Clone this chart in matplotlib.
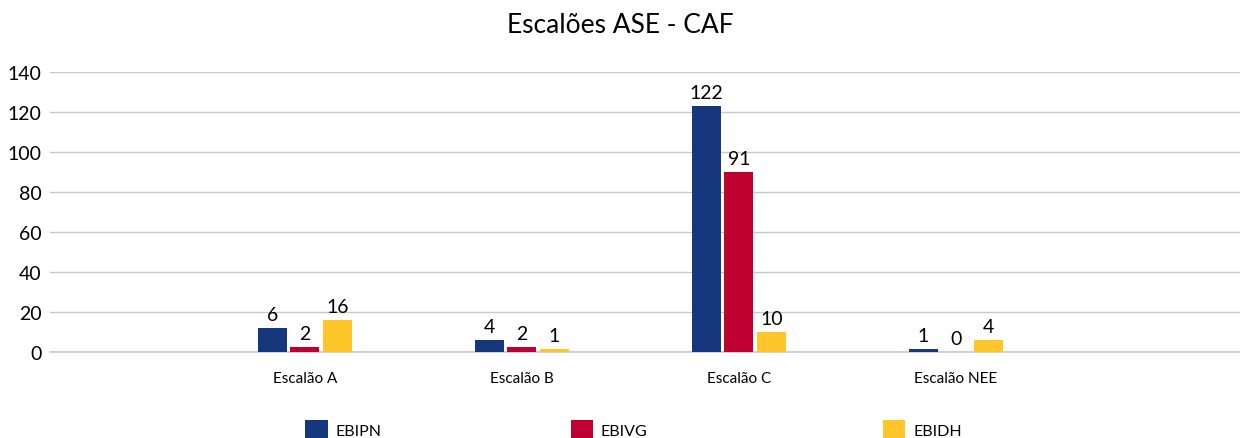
import numpy as np
import matplotlib.pyplot as plt

plt.rcParams['font.family'] = ['Lato', 'DejaVu Sans']

# categories and series
categories = ['Escalão A', 'Escalão B', 'Escalão C', 'Escalão NEE']
series = ['EBIPN', 'EBIVG', 'EBIDH']
# bar heights as drawn in the picture
ebipn = [12, 6, 123, 1.5]
ebivg = [2.5, 2.5, 90, 0]
ebidh = [16, 1.5, 10, 6]
# data labels as printed
ebipn_lbl = ['6', '4', '122', '1']
ebivg_lbl = ['2', '2', '91', '0']
ebidh_lbl = ['16', '1', '10', '4']

colors = ['#17377d', '#c00030', '#fec62b']

fig = plt.figure(figsize=(12.4, 4.39), dpi=100)
ax = fig.add_axes([0.0403, 0.196, 0.9597, 0.638])

x = np.arange(len(categories))
w = 0.134
offsets = [-0.15, 0, 0.15]
handles = []
for vals, lbls, off, c, name in zip([ebipn, ebivg, ebidh],
                                    [ebipn_lbl, ebivg_lbl, ebidh_lbl],
                                    offsets, colors, series):
    b = ax.bar(x + off, vals, width=w, color=c, label=name, zorder=3)
    handles.append(b)
    for xi, v, t in zip(x + off, vals, lbls):
        ax.text(xi, v + 2.5, t, ha='center', va='bottom', fontsize=14)

ax.set_xlim(-1.175, 4.31)
ax.set_ylim(0, 140)
ax.set_yticks(range(0, 141, 20))
ax.tick_params(axis='y', labelsize=14, length=0, pad=6)
ax.set_xticks(x)
ax.set_xticklabels(categories)
ax.tick_params(axis='x', labelsize=11, length=0, pad=14)
ax.grid(axis='y', color='#c8c8c8', linewidth=1, zorder=0)
ax.axhline(0, color='#c8c8c8', linewidth=1.2, zorder=2, clip_on=False)
for s in ax.spines.values():
    s.set_visible(False)

fig.suptitle('Escalões ASE - CAF', fontsize=19, y=0.97)

# legend entries spread across the bottom
leg_x = [0.241, 0.455, 0.707]
for h, name, lx in zip(handles, series, leg_x):
    fig.legend([h], [name], loc='center left', bbox_to_anchor=(lx, 0.02),
               frameon=False, fontsize=11.5, handlelength=1.4, handleheight=1.4,
               handletextpad=0.5, borderaxespad=0)

fig.savefig('out.png', dpi=100)
